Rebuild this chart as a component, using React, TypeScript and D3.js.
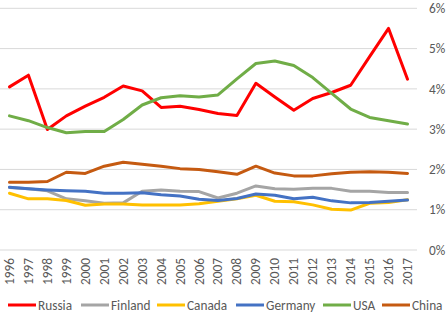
import React from "react";
import * as d3 from "d3";

const years = ["1996","1997","1998","1999","2000","2001","2002","2003","2004","2005","2006","2007","2008","2009","2010","2011","2012","2013","2014","2015","2016","2017"];
const russia = [4.05,4.34,2.99,3.33,3.57,3.79,4.07,3.95,3.54,3.57,3.49,3.39,3.34,4.14,3.80,3.47,3.76,3.91,4.09,4.80,5.50,4.24];
const finland = [1.55,1.52,1.47,1.27,1.22,1.16,1.17,1.46,1.49,1.46,1.45,1.29,1.41,1.59,1.52,1.51,1.53,1.53,1.46,1.46,1.43,1.43];
const canada = [1.41,1.27,1.27,1.23,1.11,1.14,1.14,1.12,1.12,1.12,1.15,1.21,1.27,1.36,1.21,1.20,1.12,1.01,0.99,1.16,1.18,1.25];
const germany = [1.56,1.52,1.49,1.47,1.46,1.41,1.41,1.42,1.37,1.34,1.26,1.23,1.28,1.39,1.36,1.27,1.31,1.22,1.17,1.18,1.21,1.24];
const usa = [3.33,3.21,3.04,2.91,2.94,2.94,3.24,3.60,3.78,3.83,3.80,3.85,4.25,4.63,4.69,4.58,4.28,3.89,3.50,3.29,3.21,3.13];
const china = [1.68,1.68,1.70,1.93,1.90,2.08,2.18,2.13,2.08,2.02,2.00,1.94,1.88,2.08,1.91,1.84,1.84,1.89,1.93,1.94,1.93,1.90];
const yTicks = [0,1,2,3,4,5,6];

const seriesNames = ["Russia","Finland","Canada","Germany","USA","China"];
const seriesColors = ["#FF0000","#A5A5A5","#FFC000","#4472C4","#70AD47","#C55A11"];
const seriesData = [russia, finland, canada, germany, usa, china];
const legendX = [8, 81, 157, 236, 323, 382];

export default function App() {
  const W = 448, H = 322;
  const x = d3.scaleBand().domain(years).range([0, 417]);
  const y = d3.scaleLinear().domain([0, 6]).range([250, 8.3]);
  const line = d3.line<number>()
    .x((_, i) => (x(years[i]) as number) + x.bandwidth() / 2)
    .y(d => y(d));
  const font = "Calibri, Carlito, 'Liberation Sans', Arial, sans-serif";
  const fs = 13.3;
  return (
    <svg width={W} height={H} style={{ position: "absolute", left: 0, top: 0, background: "#fff" }} fontFamily={font}>
      {yTicks.map(t => (
        <g key={t}>
          <line x1={0} x2={417} y1={y(t)} y2={y(t)} stroke="#D9D9D9" strokeWidth={1} />
          <text x={429} y={y(t)} dy="0.35em" fontSize={fs} fill="#595959">{t}%</text>
        </g>
      ))}
      {years.map(yr => {
        const cx = (x(yr) as number) + x.bandwidth() / 2;
        return (
          <text key={yr} transform={`translate(${cx + 4.5},258) rotate(-90)`} textAnchor="end" fontSize={fs} fill="#595959">{yr}</text>
        );
      })}
      {seriesData.map((d, i) => (
        <path key={seriesNames[i]} d={line(d) || ""} fill="none" stroke={seriesColors[i]} strokeWidth={3} strokeLinejoin="round" strokeLinecap="round" />
      ))}
      {seriesNames.map((n, i) => (
        <g key={n}>
          <line x1={legendX[i]} x2={legendX[i] + 28} y1={305} y2={305} stroke={seriesColors[i]} strokeWidth={3} />
          <text x={legendX[i] + 30} y={305} dy="0.35em" fontSize={fs} fill="#595959">{n}</text>
        </g>
      ))}
    </svg>
  );
}
